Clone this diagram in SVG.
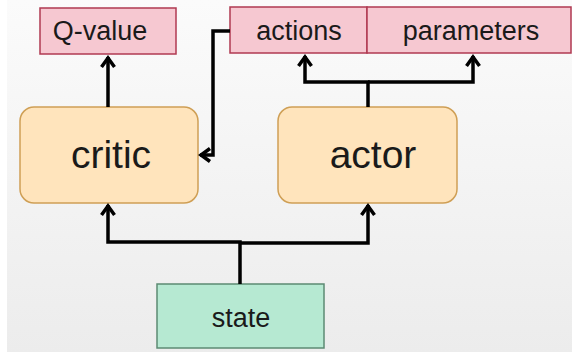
<svg xmlns="http://www.w3.org/2000/svg" width="572" height="355" viewBox="0 0 572 355">
<defs>
<linearGradient id="bg" x1="0" y1="0" x2="0" y2="1">
<stop offset="0" stop-color="#fbfbfb"/>
<stop offset="1" stop-color="#ececec"/>
</linearGradient>
<marker id="arr" markerUnits="userSpaceOnUse" markerWidth="20" markerHeight="20" viewBox="-13 -10 16 20" refX="0" refY="0" orient="auto">
<path d="M-10,-6.5 L-1,0 L-10,6.5" fill="none" stroke="#000" stroke-width="3.5" stroke-linejoin="miter"/>
</marker>
<style>
.out{fill:#f6c8d1;stroke:#b03a52;stroke-width:1.5}
.proc{fill:#ffe4bc;stroke:#cf9f55;stroke-width:1.5}
.in{fill:#b6e9d2;stroke:#5c8a73;stroke-width:1.5}
.t{font-family:"Liberation Sans",Arial,sans-serif;fill:#1a1a1a;text-anchor:middle}
.s{font-size:27px}
.b{font-size:39px}
.c{fill:none;stroke:#000;stroke-width:3.5;marker-end:url(#arr)}
</style>
</defs>
<rect x="0" y="0" width="572" height="355" fill="#ffffff"/>
<rect x="7" y="0" width="565" height="352" fill="url(#bg)"/>
<g id="qvalue">
<rect class="out" x="40" y="8" width="136" height="46"/>
<text class="t s" x="100" y="40">Q-value</text>
</g>
<g id="actions">
<rect class="out" x="230" y="7" width="137" height="46"/>
<text class="t s" x="299" y="40">actions</text>
</g>
<g id="parameters">
<rect class="out" x="367" y="7" width="204" height="46"/>
<text class="t s" x="471" y="40">parameters</text>
</g>
<g id="critic">
<rect class="proc" x="20" y="107" width="178" height="96" rx="14" ry="14"/>
<text class="t b" x="111" y="168">critic</text>
</g>
<g id="actor">
<rect class="proc" x="278" y="107" width="179" height="96" rx="14" ry="14"/>
<text class="t b" x="373" y="168">actor</text>
</g>
<g id="state">
<rect class="in" x="157" y="284" width="167" height="64"/>
<text class="t s" x="241" y="327">state</text>
</g>
<g id="connectors">
<path class="c" d="M108,107 L108,57"/>
<path class="c" d="M368,107 L368,82 L305,82 L305,56"/>
<path class="c" d="M368,82 L473,82 L473,56"/>
<path class="c" d="M230,31 L213,31 L213,155 L200,155"/>
<path class="c" d="M240,284 L240,242 L108,242 L108,205"/>
<path class="c" d="M240,243 L368,243 L368,205"/>
</g>
</svg>
